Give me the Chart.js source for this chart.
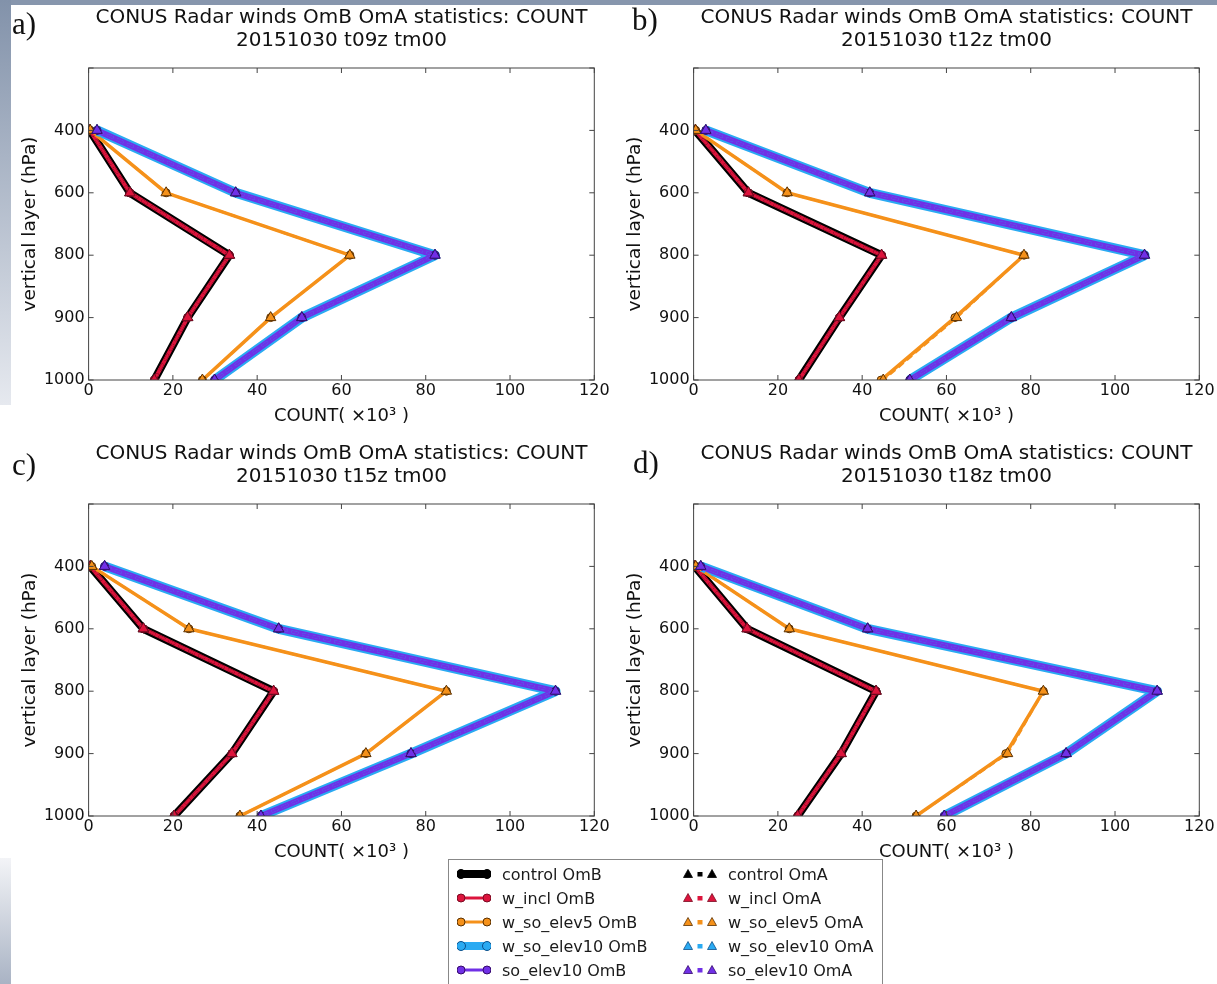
<!DOCTYPE html>
<html>
<head>
<meta charset="utf-8">
<script src="https://cdn.jsdelivr.net/npm/chart.js@4.4.1/dist/chart.umd.min.js"></script>
<style>
  html, body { margin: 0; padding: 0; }
  body { width: 1217px; height: 984px; position: relative; overflow: hidden; background: #fff; font-family: 'DejaVu Sans', sans-serif; }
  .strip { position: absolute; }
  canvas { position: absolute; }
  .tag { position: absolute; font-family: 'Liberation Serif', serif; font-size: 31px; line-height: 1; color: #111; }
  #legend { position: absolute; left: 448px; top: 859px; width: 433px; height: 140px; border: 1px solid #888; background: #fff; }
  #legend .item { position: absolute; height: 24px; display: flex; align-items: center; font-size: 16px; color: #1a1a1a; white-space: nowrap; }
  #legend .item canvas { position: static; margin-right: 11px; }
</style>
</head>
<body>
<div class="strip" style="left:0;top:0;width:1217px;height:5px;background:#8796ad"></div>
<div class="strip" style="left:0;top:0;width:11px;height:405px;background:linear-gradient(#8292aa,#e6e9ef)"></div>
<div class="strip" style="left:0;top:858px;width:11px;height:126px;background:linear-gradient(#f3f4f7,#a9b3c4)"></div>

<canvas id="panel-a" width="612" height="436" style="left:0;top:5px"></canvas>
<canvas id="panel-b" width="612" height="436" style="left:605px;top:5px"></canvas>
<canvas id="panel-c" width="612" height="436" style="left:0;top:441px"></canvas>
<canvas id="panel-d" width="612" height="436" style="left:605px;top:441px"></canvas>

<div class="tag" style="left:12px;top:8px">a)</div>
<div class="tag" style="left:632px;top:4px">b)</div>
<div class="tag" style="left:12px;top:449px">c)</div>
<div class="tag" style="left:633px;top:447px">d)</div>

<div id="legend"></div>

<script>
// Pressure levels (hPa), top to bottom of each panel
const levels = ['400', '600', '800', '900', '1000'];
// blank slot above 400 hPa, the axes start one step higher
const yLabels = ['', ...levels];

// Experiments, in legend order
const runs = ['control', 'w_incl', 'w_so_elev5', 'w_so_elev10', 'so_elev10'];
const cycles = ['t09z', 't12z', 't15z', 't18z'];

// COUNT (x10^3): one row per run (same order as `runs`), one column per level
const ombT09 = [
    [0.3, 9.8, 33.4, 23.5, 15.6],
    [0.3, 9.8, 33.4, 23.5, 15.6],
    [0.4, 18.4, 62.0, 43.2, 27.0],
    [2.0, 34.9, 82.2, 50.6, 29.9],
    [2.0, 34.9, 82.2, 50.6, 29.9],
];
const omaT09 = [
    [0.3, 9.8, 33.4, 23.5, 15.6],
    [0.3, 9.8, 33.4, 23.5, 15.6],
    [0.4, 18.4, 62.0, 43.2, 27.0],
    [2.0, 34.9, 82.2, 50.6, 29.9],
    [2.0, 34.9, 82.2, 50.6, 29.9],
];

const ombT12 = [
    [0.4, 13.0, 44.6, 34.6, 25.0],
    [0.4, 13.0, 44.6, 34.6, 25.0],
    [0.5, 22.2, 78.4, 62.0, 44.5],
    [2.9, 41.8, 107.0, 75.4, 51.3],
    [2.9, 41.8, 107.0, 75.4, 51.3],
];
const omaT12 = [
    [0.4, 13.0, 44.6, 34.6, 25.0],
    [0.4, 13.0, 44.6, 34.6, 25.0],
    [0.5, 22.2, 78.4, 62.4, 45.0],
    [2.9, 41.8, 107.0, 75.4, 51.3],
    [2.9, 41.8, 107.0, 75.4, 51.3],
];

const ombT15 = [
    [0.4, 13.0, 43.9, 34.0, 20.3],
    [0.4, 13.0, 43.9, 34.0, 20.3],
    [0.75, 23.8, 84.9, 65.8, 35.9],
    [3.8, 45.1, 110.8, 76.5, 40.9],
    [3.8, 45.1, 110.8, 76.5, 40.9],
];
const omaT15 = [
    [0.4, 13.0, 43.9, 34.0, 20.3],
    [0.4, 13.0, 43.9, 34.0, 20.3],
    [0.75, 23.8, 84.9, 65.8, 35.9],
    [3.8, 45.1, 110.8, 76.5, 40.9],
    [3.8, 45.1, 110.8, 76.5, 40.9],
];

const ombT18 = [
    [0.3, 12.7, 43.3, 35.0, 24.7],
    [0.3, 12.7, 43.3, 35.0, 24.7],
    [0.5, 22.7, 83.0, 74.1, 52.8],
    [1.7, 41.3, 110.0, 88.4, 59.5],
    [1.7, 41.3, 110.0, 88.4, 59.5],
];
const omaT18 = [
    [0.3, 12.7, 43.3, 35.0, 24.7],
    [0.3, 12.7, 43.3, 35.0, 24.7],
    [0.5, 22.7, 83.0, 74.5, 52.8],
    [1.7, 41.3, 110.0, 88.4, 59.5],
    [1.7, 41.3, 110.0, 88.4, 59.5],
];

// Styling per run
const runColors = ['#000000', '#dc143c', '#f5911a', '#2aaaf2', '#7030e6'];
const edgeColors = ['#000000', '#7a0a22', '#5a3000', '#0b4f8a', '#35096b'];
const ombWidths = [8, 4, 3.5, 10, 6];

Chart.defaults.font.family = "'DejaVu Sans', sans-serif";
Chart.defaults.color = '#111';

// Box around the axes with inward ticks on all four sides (matplotlib look)
const framePlugin = {
    id: 'frame',
    afterDatasetsDraw(chart) {
        const { ctx, chartArea: a, scales: { x, y } } = chart;
        ctx.save();
        ctx.strokeStyle = '#444';
        ctx.lineWidth = 1;
        ctx.beginPath();
        x.ticks.forEach(t => {
            const px = x.getPixelForValue(t.value);
            ctx.moveTo(px, a.bottom);
            ctx.lineTo(px, a.bottom - 5);
            ctx.moveTo(px, a.top);
            ctx.lineTo(px, a.top + 5);
        });
        y.ticks.forEach((t, i) => {
            const py = y.getPixelForTick(i);
            ctx.moveTo(a.left, py);
            ctx.lineTo(a.left + 5, py);
            ctx.moveTo(a.right, py);
            ctx.lineTo(a.right - 5, py);
        });
        ctx.stroke();
        ctx.strokeRect(a.left, a.top, a.right - a.left, a.bottom - a.top);
        ctx.restore();
    }
};

// One dataset (OmB = solid with circles, OmA = dashed with triangles)
const lineSet = (label, values, r, isOmA) => ({
    label,
    data: levels.map((lev, i) => ({ x: values[i], y: lev })),
    borderColor: runColors[r],
    borderWidth: isOmA ? 2.5 : ombWidths[r],
    borderDash: isOmA ? [7, 4] : [],
    borderJoinStyle: 'round',
    pointStyle: isOmA ? 'triangle' : 'circle',
    pointRadius: isOmA ? 6 : 4,
    pointBackgroundColor: runColors[r],
    pointBorderColor: edgeColors[r],
    pointBorderWidth: 1,
    fill: false,
    tension: 0,
    clip: 0,
});

const buildPanel = (canvasId, omb, oma, cycle) => {
    const datasets = [];
    runs.forEach((run, r) => datasets.push(lineSet(`${run} OmB`, omb[r], r, false)));
    runs.forEach((run, r) => datasets.push(lineSet(`${run} OmA`, oma[r], r, true)));
    // later series are drawn on top, as in the original figure
    datasets.forEach((d, i) => { d.order = -i; });

    return new Chart(document.getElementById(canvasId), {
        type: 'line',
        data: { datasets },
        plugins: [framePlugin],
        options: {
            responsive: false,
            animation: false,
            devicePixelRatio: 1,
            layout: { padding: { left: 0, right: 17.7, top: 0, bottom: 14.2 } },
            plugins: {
                legend: { display: false },
                tooltip: { enabled: false },
                title: {
                    display: true,
                    fullSize: false,
                    text: ['CONUS Radar winds OmB OmA statistics: COUNT', `20151030 ${cycle} tm00`],
                    color: '#111',
                    font: { size: 20, weight: 'normal', lineHeight: 1.125 },
                    padding: { top: 2, bottom: 16 },
                },
            },
            scales: {
                x: {
                    type: 'linear',
                    position: 'bottom',
                    min: 0,
                    max: 120,
                    ticks: { stepSize: 20, padding: 1.5, maxRotation: 0, color: '#111', font: { size: 16 } },
                    grid: { display: false, drawTicks: false },
                    border: { display: false },
                    title: {
                        display: true,
                        text: 'COUNT( ×10³ )',
                        color: '#111',
                        font: { size: 18, lineHeight: 1.2 },
                        padding: 0,
                    },
                    afterFit: s => { s.height = 46.8; },
                },
                y: {
                    type: 'category',
                    labels: yLabels,
                    offset: false,
                    ticks: { padding: 4, autoSkip: false, color: '#111', font: { size: 16 } },
                    grid: { display: false, drawTicks: false },
                    border: { display: false },
                    title: {
                        display: true,
                        text: 'vertical layer (hPa)',
                        color: '#111',
                        font: { size: 18.5, lineHeight: 1.2 },
                        padding: { top: 19, bottom: 0 },
                    },
                    afterFit: s => { s.width = 88.6; },
                },
            },
        },
    });
};

buildPanel('panel-a', ombT09, omaT09, cycles[0]);
buildPanel('panel-b', ombT12, omaT12, cycles[1]);
buildPanel('panel-c', ombT15, omaT15, cycles[2]);
buildPanel('panel-d', ombT18, omaT18, cycles[3]);

// Shared legend: OmB column, then OmA column
const drawSwatch = (ctx, r, kind) => {
    const c = runColors[r];
    const thick = ombWidths[r] >= 8;
    ctx.fillStyle = c;
    ctx.strokeStyle = c;
    if (kind === 'OmB') {
        ctx.lineWidth = thick ? 8 : 3;
        ctx.beginPath();
        ctx.moveTo(4, 12);
        ctx.lineTo(30, 12);
        ctx.stroke();
        [4, 30].forEach(cx => {
            ctx.beginPath();
            ctx.arc(cx, 12, thick ? 4.5 : 4, 0, Math.PI * 2);
            ctx.fill();
            ctx.lineWidth = 1;
            ctx.strokeStyle = edgeColors[r];
            ctx.stroke();
        });
    } else {
        ctx.fillRect(14.5, 10, 5, 4.5);
        [5, 29].forEach(cx => {
            ctx.beginPath();
            ctx.moveTo(cx, 7.5);
            ctx.lineTo(cx + 4.5, 15.5);
            ctx.lineTo(cx - 4.5, 15.5);
            ctx.closePath();
            ctx.fill();
            ctx.lineWidth = 0.8;
            ctx.strokeStyle = edgeColors[r];
            ctx.stroke();
        });
    }
};

const legendBox = document.getElementById('legend');
['OmB', 'OmA'].forEach((kind, col) => {
    runs.forEach((run, row) => {
        const item = document.createElement('div');
        item.className = 'item';
        item.style.left = (col ? 234 : 8) + 'px';
        item.style.top = (2 + row * 24) + 'px';
        const sw = document.createElement('canvas');
        sw.width = 34;
        sw.height = 24;
        drawSwatch(sw.getContext('2d'), row, kind);
        const label = document.createElement('span');
        label.textContent = `${run} ${kind}`;
        item.append(sw, label);
        legendBox.appendChild(item);
    });
});
</script>
</body>
</html>
